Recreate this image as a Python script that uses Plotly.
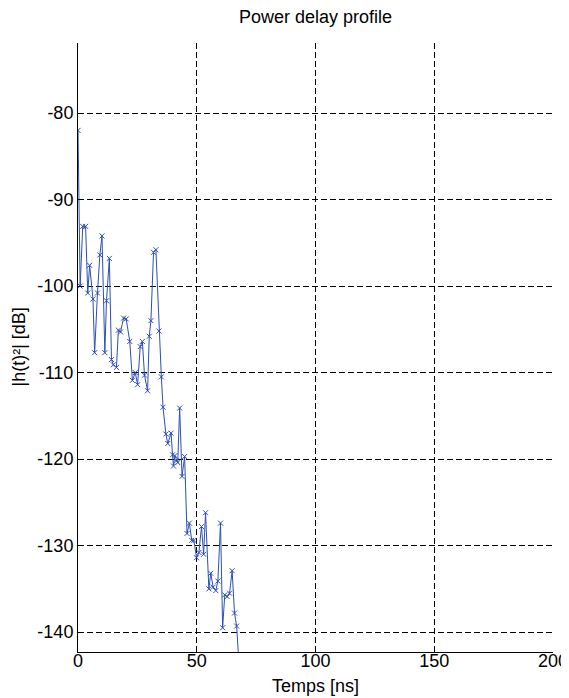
import plotly.graph_objects as go

# delay (ns) and power (dB)
temps_ns = [0, 0.9, 2.0, 3.2, 4.1, 4.9, 6.3, 7.0, 8.2, 9.2, 10.1, 11.3, 12.0, 13.2,
            14.1, 14.9, 16.2, 17.0, 17.9, 19.2, 20.3, 21.8, 22.9, 24.1, 25.1, 26.2,
            27.1, 28.0, 29.3, 30.0, 30.7, 31.8, 32.8, 34.1, 35.1, 35.8, 37.0, 37.8,
            39.2, 39.8, 40.2, 40.8, 41.5, 42.0, 42.8, 43.8, 44.9, 45.9, 46.9, 47.9,
            48.8, 49.9, 50.9, 52.0, 52.9, 53.7, 55.1, 55.9, 56.9, 58.0, 58.9, 60.0,
            60.9, 61.8, 62.8, 63.8, 64.9, 65.9, 66.8, 68.3]
puissance_db = [-82.0, -100.0, -93.1, -93.1, -100.8, -97.6, -101.5, -107.7, -100.8,
                -96.4, -94.2, -107.7, -101.7, -96.8, -108.5, -109.1, -109.4, -105.1,
                -105.3, -103.7, -103.8, -106.4, -110.9, -110.0, -111.4, -107.0,
                -106.4, -110.3, -112.1, -105.8, -104.0, -96.1, -95.8, -105.2, -110.5,
                -114.0, -117.1, -118.2, -117.0, -119.5, -120.8, -119.6, -120.2,
                -120.4, -114.1, -122.0, -119.7, -128.6, -127.4, -129.4, -129.4,
                -131.4, -130.8, -127.8, -131.0, -126.2, -135.0, -133.2, -134.8,
                -135.2, -134.1, -127.4, -139.5, -135.7, -135.9, -135.5, -132.9,
                -137.8, -139.3, -146.0]

x_ticks = [0, 50, 100, 150, 200]
y_ticks = [-140, -130, -120, -110, -100, -90, -80]
y_labels = ["-140", "-130", "-120", "-110", "-100", "-90", "-80"]

bleu = "#2b4fb5"
police = "Liberation Sans, Arial, sans-serif"
taille = 18
texte = dict(family=police, size=taille, color="black")

fig = go.Figure()
fig.add_trace(go.Scatter(
    x=temps_ns, y=puissance_db, mode="lines+markers",
    line=dict(color=bleu, width=1),
    marker=dict(symbol="x-thin", size=5, color=bleu, line=dict(color=bleu, width=1)),
    showlegend=False,
))

axe = dict(
    showline=True, linecolor="black", linewidth=1, mirror=False,
    showgrid=True, gridcolor="black", gridwidth=1, griddash="6px,3px",
    zeroline=False, ticks="inside", ticklen=5, tickcolor="black",
    tickfont=texte, automargin=False,
)

fig.update_xaxes(axe, range=[0, 200], tickvals=x_ticks, ticklabelstandoff=-8)
fig.update_yaxes(axe, range=[-142.3, -71.9], tickvals=y_ticks, ticktext=y_labels)

# axis titles as annotations so they sit where the reference has them
fig.add_annotation(text="Temps [ns]", xref="paper", yref="paper", x=0.5, y=0,
                   xanchor="center", yanchor="middle", yshift=-34, showarrow=False, font=texte)
fig.add_annotation(text="|h(t)²| [dB]", xref="paper", yref="paper", x=0, y=0.5,
                   xanchor="center", yanchor="middle", xshift=-60, textangle=-90,
                   showarrow=False, font=texte)

fig.update_layout(
    width=569, height=698,
    margin=dict(l=70, r=24, t=35, b=54),
    plot_bgcolor="white", paper_bgcolor="white",
    title=dict(text="Power delay profile", xref="paper", x=0.5, xanchor="center",
               y=0.988, yanchor="middle", font=texte),
)

fig.write_html("out.html")
